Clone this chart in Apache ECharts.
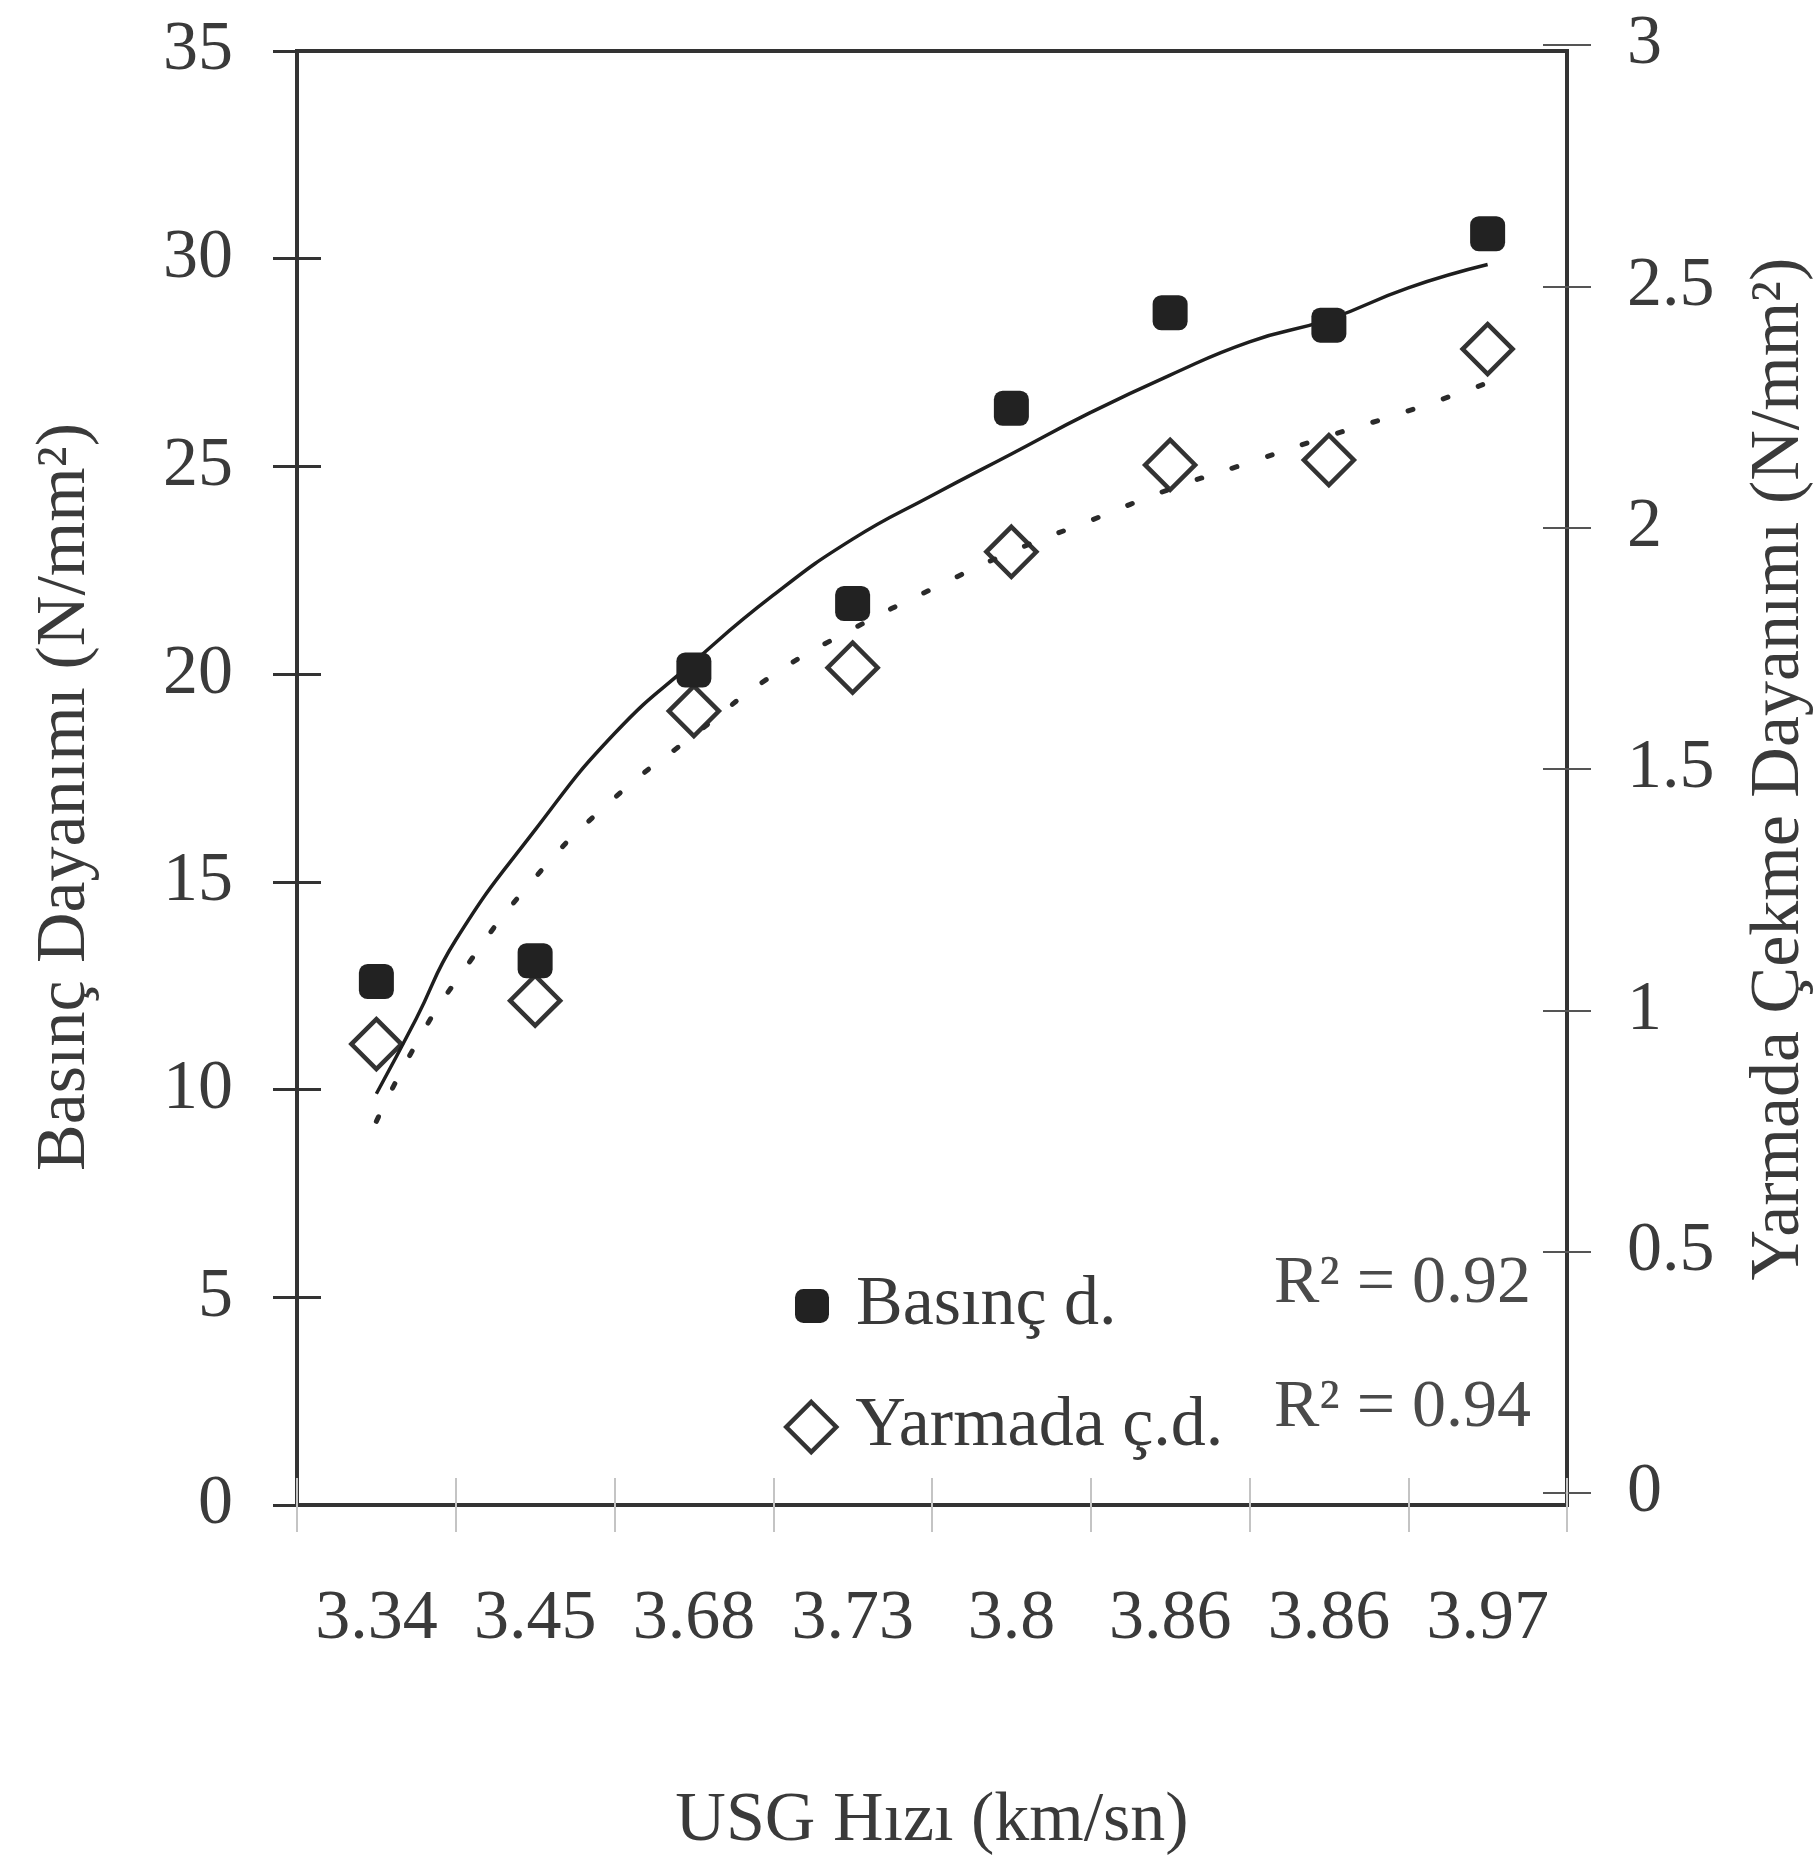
<!DOCTYPE html>
<html>
<head>
<meta charset="utf-8">
<script src="https://cdn.jsdelivr.net/npm/echarts@6/dist/echarts.min.js"></script>
<style>
html,body{margin:0;padding:0;background:#ffffff;}
#chart{width:1815px;height:1865px;}
</style>
</head>
<body>
<div id="chart"></div>
<script>
// ---- data ----
const categories = ['3.34', '3.45', '3.68', '3.73', '3.8', '3.86', '3.86', '3.97'];
const basinc = [12.6, 13.1, 20.1, 21.7, 26.4, 28.7, 28.4, 30.6];          // left axis
const yarmada = [0.93, 1.02, 1.62, 1.71, 1.95, 2.13, 2.14, 2.37];         // right axis
// trend lines (position along the category axis, 1 = first category)
const trendX = [1, 1.25, 1.5, 2, 2.5, 3, 3.5, 4, 4.5, 5, 5.5, 6, 6.5, 7, 7.5, 8];
const basincTrend = [9.9, 11.7, 13.6, 16.25, 18.57, 20.3, 21.9, 23.25, 24.3, 25.3, 26.3, 27.2, 28.0, 28.54, 29.3, 29.86];
const yarmadaTrend = [0.77, 0.93, 1.06, 1.275, 1.44, 1.57, 1.695, 1.79, 1.873, 1.95, 2.015, 2.08, 2.135, 2.19, 2.242, 2.30];
const leftTicks = [0, 5, 10, 15, 20, 25, 30, 35];
const rightTicks = [0, 0.5, 1, 1.5, 2, 2.5, 3];
const r2Labels = ['R² = 0.92', 'R² = 0.94'];
const seriesNames = ['Basınç d.', 'Yarmada ç.d.'];
const axisNames = { x: 'USG Hızı (km/sn)', left: 'Basınç Dayanımı (N/mm²)', right: 'Yarmada Çekme Dayanımı (N/mm²)' };

const FONT = 'Liberation Serif';
const TXT = '#3a3a3a';
const AX = '#333333';

const chart = echarts.init(document.getElementById('chart'), null, { renderer: 'canvas' });

const leftMin = leftTicks[0], leftMax = leftTicks[leftTicks.length - 1], leftStep = leftTicks[1] - leftTicks[0];
const rightMin = rightTicks[0], rightMax = rightTicks[rightTicks.length - 1], rightStep = rightTicks[1] - rightTicks[0];

const option = {
  backgroundColor: '#ffffff',
  animation: false,
  textStyle: { fontFamily: FONT, color: TXT },
  grid: [
    { left: 297, right: 248, top: 51, bottom: 360, containLabel: false, outerBoundsMode: 'none',
      show: true, borderColor: AX, borderWidth: 4, backgroundColor: 'transparent' },
    { left: 297, right: 248, top: 45, bottom: 372, containLabel: false, outerBoundsMode: 'none', show: false }
  ],
  xAxis: [
    {
      gridIndex: 0, type: 'category', data: categories, position: 'bottom', boundaryGap: true,
      axisLine: { show: true, lineStyle: { color: AX, width: 4 } },
      axisTick: { show: true, interval: 0, length: 27, inside: false, lineStyle: { color: '#c4c4c4', width: 2 } },
      axisLabel: { show: true, interval: 0, margin: 80, fontSize: 70, fontFamily: FONT, color: TXT },
      name: axisNames.x, nameLocation: 'middle', nameGap: 282,
      nameTextStyle: { fontSize: 70, fontFamily: FONT, color: TXT },
      splitLine: { show: false }
    },
    {
      gridIndex: 0, type: 'category', data: categories, position: 'bottom', boundaryGap: true,
      axisLine: { show: false },
      axisTick: { show: true, interval: 0, length: 27, inside: true, lineStyle: { color: '#c4c4c4', width: 2 } },
      axisLabel: { show: false }, splitLine: { show: false }
    },
    { gridIndex: 0, type: 'value', min: 0.5, max: 8.5, show: false, position: 'bottom' },
    { gridIndex: 1, type: 'category', data: categories, boundaryGap: true, show: false },
    { gridIndex: 1, type: 'value', min: 0.5, max: 8.5, show: false }
  ],
  yAxis: [
    {
      gridIndex: 0, type: 'value', position: 'left', min: leftMin, max: leftMax, interval: leftStep,
      axisLine: { show: true, lineStyle: { color: AX, width: 4 } },
      axisTick: { show: true, length: 24, inside: false, lineStyle: { color: AX, width: 3 } },
      axisLabel: { show: true, margin: 64, fontSize: 70, fontFamily: FONT, color: TXT },
      splitLine: { show: false },
      name: axisNames.left, nameLocation: 'middle', nameRotate: 90, nameGap: 196,
      nameTextStyle: { fontSize: 70, fontFamily: FONT, color: TXT, padding: [0, 38, 0, 0] }
    },
    {
      gridIndex: 0, type: 'value', position: 'left', min: leftMin, max: leftMax, interval: leftStep,
      axisLine: { show: false },
      axisTick: { show: true, length: 24, inside: true, lineStyle: { color: AX, width: 3 } },
      axisLabel: { show: false }, splitLine: { show: false }
    },
    {
      gridIndex: 1, type: 'value', position: 'right', min: rightMin, max: rightMax, interval: rightStep,
      axisLine: { show: false },
      axisTick: { show: true, length: 24, inside: false, lineStyle: { color: '#555', width: 2 } },
      axisLabel: { show: true, margin: 60, fontSize: 70, fontFamily: FONT, color: TXT },
      splitLine: { show: false },
      name: axisNames.right, nameLocation: 'middle', nameRotate: 90, nameGap: 178,
      nameTextStyle: { fontSize: 70, fontFamily: FONT, color: TXT }
    },
    {
      gridIndex: 1, type: 'value', position: 'right', min: rightMin, max: rightMax, interval: rightStep,
      axisLine: { show: false },
      axisTick: { show: true, length: 24, inside: true, lineStyle: { color: '#555', width: 2 } },
      axisLabel: { show: false }, splitLine: { show: false }
    }
  ],
  legend: [
    {
      data: [{ name: seriesNames[0], icon: 'roundRect' }],
      orient: 'vertical', left: 790, top: 1266, itemWidth: 34, itemHeight: 34,
      selectedMode: false,
      textStyle: { fontSize: 70, fontFamily: FONT, color: TXT, padding: [0, 0, 0, 22] }
    },
    {
      data: [{ name: seriesNames[1], icon: 'diamond' }],
      orient: 'vertical', left: 779, top: 1387, itemWidth: 50, itemHeight: 50,
      selectedMode: false,
      itemStyle: { color: '#ffffff', borderColor: '#333', borderWidth: 4.5 },
      textStyle: { fontSize: 70, fontFamily: FONT, color: TXT, padding: [0, 0, 0, 14] }
    }
  ],
  graphic: [
    { type: 'text', x: 1274, y: 1284, z: 10, style: { text: r2Labels[0], fontSize: 68, fontFamily: FONT, fill: '#4a4a4a', verticalAlign: 'middle' } },
    { type: 'text', x: 1274, y: 1408, z: 10, style: { text: r2Labels[1], fontSize: 68, fontFamily: FONT, fill: '#4a4a4a', verticalAlign: 'middle' } }
  ],
  series: [
    {
      name: seriesNames[1], type: 'scatter', xAxisIndex: 3, yAxisIndex: 2, z: 2,
      symbol: 'diamond', symbolSize: 50,
      itemStyle: { color: '#ffffff', borderColor: '#333', borderWidth: 4.5, opacity: 1 },
      data: yarmada
    },
    {
      name: 'Yarmada trend', type: 'line', xAxisIndex: 4, yAxisIndex: 2, z: 3,
      smooth: true, showSymbol: false, silent: true,
      lineStyle: { color: '#2a2a2a', width: 5, type: [5, 32], cap: 'round' },
      data: trendX.map((x, i) => [x, yarmadaTrend[i]])
    },
    {
      name: 'Basınç trend', type: 'line', xAxisIndex: 2, yAxisIndex: 0, z: 3,
      smooth: true, showSymbol: false, silent: true,
      lineStyle: { color: '#1e1e1e', width: 3.5, type: 'solid' },
      data: trendX.map((x, i) => [x, basincTrend[i]])
    },
    {
      name: seriesNames[0], type: 'scatter', xAxisIndex: 0, yAxisIndex: 0, z: 4,
      symbol: 'roundRect', symbolSize: 35,
      itemStyle: { color: '#222', opacity: 1 },
      data: basinc
    }
  ]
};
chart.setOption(option);
</script>
</body>
</html>
